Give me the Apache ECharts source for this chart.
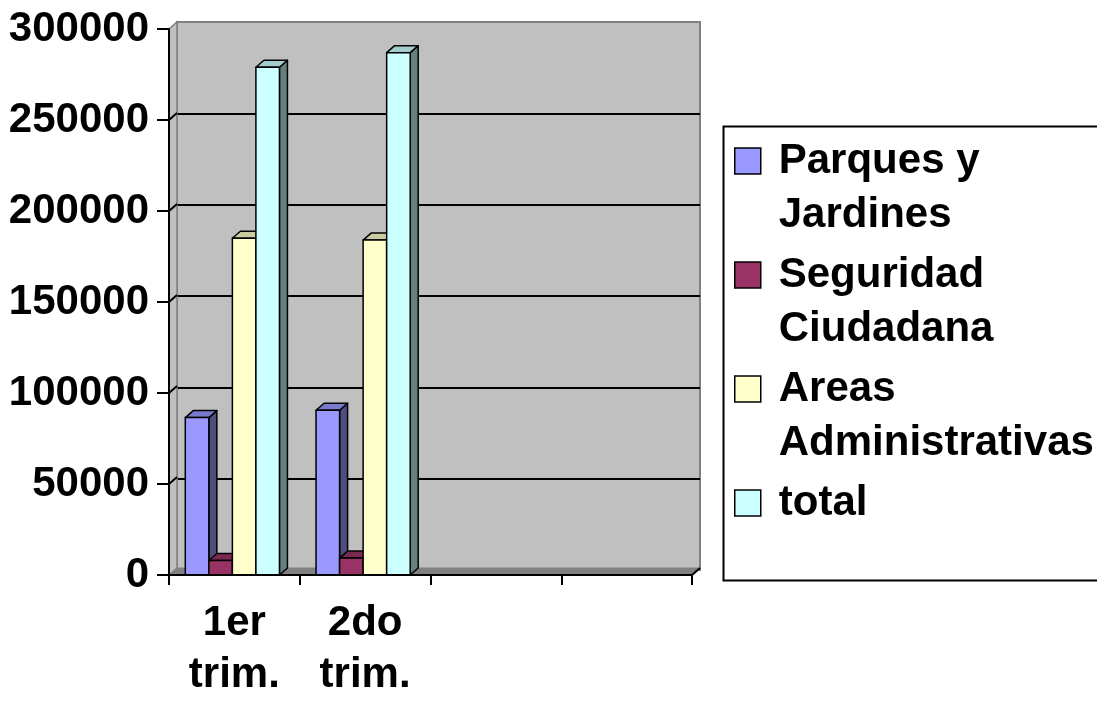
<!DOCTYPE html>
<html><head><meta charset="utf-8">
<script src="https://cdn.jsdelivr.net/npm/echarts@6/dist/echarts.min.js"></script>
<style>html,body{margin:0;padding:0;background:#fff}#c{width:1097px;height:701px}</style>
</head><body><div id="c"></div>
<script>
// ---- data ----
const categories = ['1er trim.', '2do trim.', '', ''];
const seriesNames = ['Parques y Jardines', 'Seguridad Ciudadana', 'Areas Administrativas', 'total'];
const parquesJardines = [86500, 90500];
const seguridadCiudadana = [8000, 9300];
const areasAdministrativas = [185000, 184000];
const total = [279000, 287000];
const yTicks = [0, 50000, 100000, 150000, 200000, 250000, 300000];

// ---- style ----
const FONT = '"Liberation Sans", Arial, sans-serif';
const FS = 42;
const COLORS = ['#9999FF', '#993366', '#FFFFCC', '#CCFFFF'];
const DX = 8, DY = -7;
function shade(hex, f) {
  const n = parseInt(hex.slice(1), 16);
  const r = Math.round(((n >> 16) & 255) * f), g = Math.round(((n >> 8) & 255) * f), b = Math.round((n & 255) * f);
  return 'rgb(' + r + ',' + g + ',' + b + ')';
}
const valueLists = [parquesJardines, seguridadCiudadana, areasAdministrativas, total];

function barRenderer(si) {
  return function (params, api) {
    const cat = api.value(0), val = api.value(1);
    const p0 = api.coord([cat, 0]);
    const p1 = api.coord([cat, val]);
    const band = api.size([1, 0])[0];
    const bw = band * 0.18;
    const x0 = p0[0] - 2 * bw - 2 + si * bw;
    const yT = p1[1], yB = p0[1];
    const c = COLORS[si];
    const line = { stroke: '#000', lineWidth: 1.5, lineJoin: 'round' };
    return {
      type: 'group',
      children: [
        { type: 'polygon', shape: { points: [[x0 + bw, yT], [x0 + bw + DX, yT + DY], [x0 + bw + DX, yB + DY], [x0 + bw, yB]] },
          style: Object.assign({ fill: shade(c, 0.5) }, line) },
        { type: 'polygon', shape: { points: [[x0, yT], [x0 + bw, yT], [x0 + bw + DX, yT + DY], [x0 + DX, yT + DY]] },
          style: Object.assign({ fill: shade(c, 0.8) }, line) },
        { type: 'rect', shape: { x: x0, y: yT, width: bw, height: yB - yT },
          style: Object.assign({ fill: c }, line) }
      ]
    };
  };
}

function wallsRenderer(params, api) {
  const band = api.size([1, 0])[0];
  const xl = api.coord([0, 0])[0] - band / 2;
  const xr = api.coord([categories.length - 1, 0])[0] + band / 2;
  const y0 = api.coord([0, 0])[1];
  const yTop = api.coord([0, yTicks[yTicks.length - 1]])[1];
  const children = [
    { type: 'polygon', shape: { points: [[xl, yTop], [xl + DX, yTop + DY], [xl + DX, y0 + DY], [xl, y0]] },
      style: { fill: '#C0C0C0', stroke: '#808080', lineWidth: 1.5 } },
    { type: 'polygon', shape: { points: [[xl, y0], [xr, y0], [xr + DX, y0 + DY], [xl + DX, y0 + DY]] },
      style: { fill: '#808080', stroke: '#808080', lineWidth: 1 } },
    { type: 'line', shape: { x1: xr, y1: y0, x2: xr + DX, y2: y0 + DY }, style: { stroke: '#000', lineWidth: 2 } }
  ];
  yTicks.forEach(function (t) {
    if (t === 0 || t === yTicks[yTicks.length - 1]) return;
    const y = api.coord([0, t])[1];
    children.push({ type: 'line', shape: { x1: xl, y1: y, x2: xl + DX, y2: y + DY }, style: { stroke: '#000', lineWidth: 2 } });
  });
  return { type: 'group', children: children };
}

const series = [{
  type: 'custom', name: '_walls', xAxisIndex: 0, yAxisIndex: 0, z: 1, silent: true,
  renderItem: wallsRenderer, data: [[0, 0]]
}];
seriesNames.forEach(function (name, si) {
  series.push({
    type: 'custom', name: name, xAxisIndex: 0, yAxisIndex: 0, z: 2,
    itemStyle: { color: COLORS[si], borderColor: '#000', borderWidth: 1.5 },
    renderItem: barRenderer(si),
    data: valueLists[si].map(function (v, i) { return [i, v]; })
  });
});

const chart = echarts.init(document.getElementById('c'), null, { renderer: 'canvas' });
chart.setOption({
  backgroundColor: '#ffffff',
  animation: false,
  textStyle: { fontFamily: FONT },
  grid: [
    { left: 169, right: 405, top: 29, bottom: 124, containLabel: false },
    { left: 177, right: 397, top: 22, bottom: 131, show: true, backgroundColor: '#C0C0C0', borderColor: '#808080', borderWidth: 2, z: 0 }
  ],
  xAxis: [
    { type: 'category', gridIndex: 0, data: categories, z: 5,
      axisLine: { show: true, lineStyle: { color: '#000', width: 2 } },
      axisTick: { show: true, length: 10, lineStyle: { color: '#000', width: 2 } },
      axisLabel: { show: true, color: '#000', fontFamily: FONT, fontWeight: 'bold', fontSize: FS, lineHeight: 52, margin: 22, interval: 0,
        formatter: function (v) { return v.replace(' ', '\n'); } } },
    { type: 'category', gridIndex: 1, data: categories, show: false }
  ],
  yAxis: [
    { type: 'value', gridIndex: 0, min: 0, max: 300000, interval: 50000, z: 5,
      axisLine: { show: true, lineStyle: { color: '#000', width: 2 } },
      axisTick: { show: true, length: 12, lineStyle: { color: '#000', width: 2 } },
      splitLine: { show: false },
      axisLabel: { color: '#000', fontFamily: FONT, fontWeight: 'bold', fontSize: FS, margin: 20,
        formatter: function (v) { return String(v); } } },
    { type: 'value', gridIndex: 1, min: 0, max: 300000, interval: 50000,
      axisLine: { show: false }, axisTick: { show: false }, axisLabel: { show: false },
      splitLine: { show: true, showMinLine: false, showMaxLine: false, lineStyle: { color: '#000', width: 2 } } }
  ],
  legend: {
    orient: 'vertical', left: 734, top: 78, padding: 0, itemGap: -52,
    itemWidth: 26, itemHeight: 26, icon: 'rect',
    data: seriesNames.map(function (n, i) {
      return { name: n, itemStyle: { color: COLORS[i], borderColor: '#000', borderWidth: 1.5 } };
    }),
    textStyle: { color: '#000', fontFamily: FONT, fontWeight: 'bold', fontSize: FS, lineHeight: 54, padding: [4, 0, 0, 13] },
    formatter: function (name) {
      const i = name.lastIndexOf(' ');
      const body = i > 0 ? name.slice(0, i) + '\n' + name.slice(i + 1) : name + '\n';
      return '\n' + body;
    }
  },
  graphic: [{ type: 'rect', left: 721, top: 124, shape: { width: 400, height: 454 },
    style: { fill: 'none', stroke: '#000', lineWidth: 2 }, silent: true }],
  series: series
});
</script>
</body></html>
